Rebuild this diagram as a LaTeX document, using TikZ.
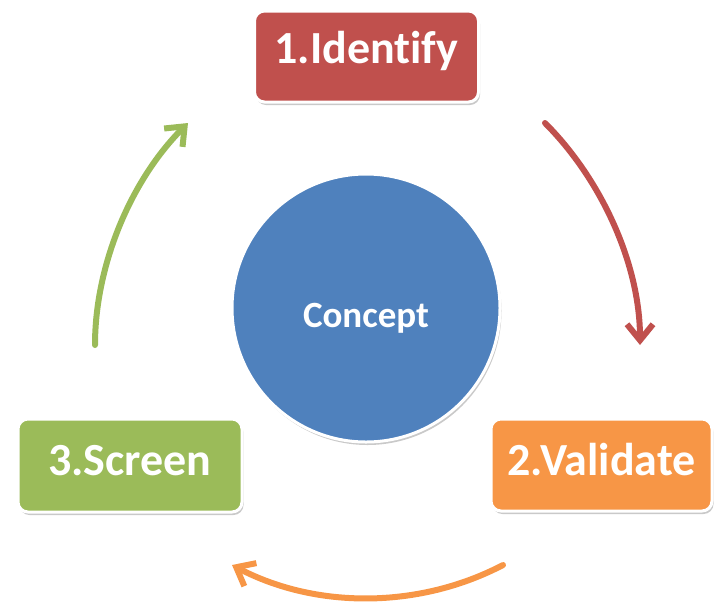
\documentclass[tikz,border=0pt]{standalone}
\usepackage{fontspec}
\setmainfont{Carlito}[Ligatures=NoCommon]
\usetikzlibrary{arrows.meta,shadows}
\definecolor{cred}{HTML}{C0504D}
\definecolor{corange}{HTML}{F79646}
\definecolor{cgreen}{HTML}{9BBB59}
\definecolor{cblue}{HTML}{4F81BD}
\begin{document}
\begin{tikzpicture}[x=1pt,y=-1pt,
  softshadow/.style={drop shadow={shadow xshift=1.5pt,shadow yshift=-3pt,opacity=0.3,fill=black!70}},
  stepbox/.style={rounded corners=10pt,draw=white,line width=3pt,text=white,
    font=\bfseries\fontsize{46}{50}\selectfont,minimum width=224pt,minimum height=91pt,
    inner sep=0pt,softshadow},
  flow/.style={line width=6pt,line cap=round,-{Straight Barb[length=16pt,width=26pt]}}]
\useasboundingbox (0,0) rectangle (714,603);
\node[stepbox,fill=cred,text height=30pt,text depth=17pt] (identify) at (366.5,56.5) {1.Identify};
\node[stepbox,fill=corange,minimum width=221pt,minimum height=92pt,text height=30pt,text depth=10pt] (validate) at (601.5,465) {2.Validate};
\node[stepbox,fill=cgreen,minimum height=93pt,text height=30pt,text depth=10pt] (screen) at (130,465.5) {3.Screen};
\node[circle,fill=cblue,draw=white,line width=3pt,minimum size=268pt,inner sep=0pt,
  text=white,font=\bfseries\fontsize{37}{40}\selectfont,text height=38pt,text depth=0pt,softshadow] (concept) at (366,308) {Concept};
\coordinate (r1) at (545,123);
\coordinate (r2) at (640,345);
\coordinate (o1) at (503,565);
\coordinate (o2) at (232,565);
\coordinate (g1) at (95,345);
\coordinate (g2) at (188,123);
\draw[flow,draw=cred] (r1) .. controls (602,180) and (640,265) .. (r2);
\draw[flow,draw=corange] (o1) .. controls (419,609) and (316,609) .. (o2);
\draw[flow,draw=cgreen] (g1) .. controls (95,265) and (131,180) .. (g2);
\end{tikzpicture}
\end{document}
